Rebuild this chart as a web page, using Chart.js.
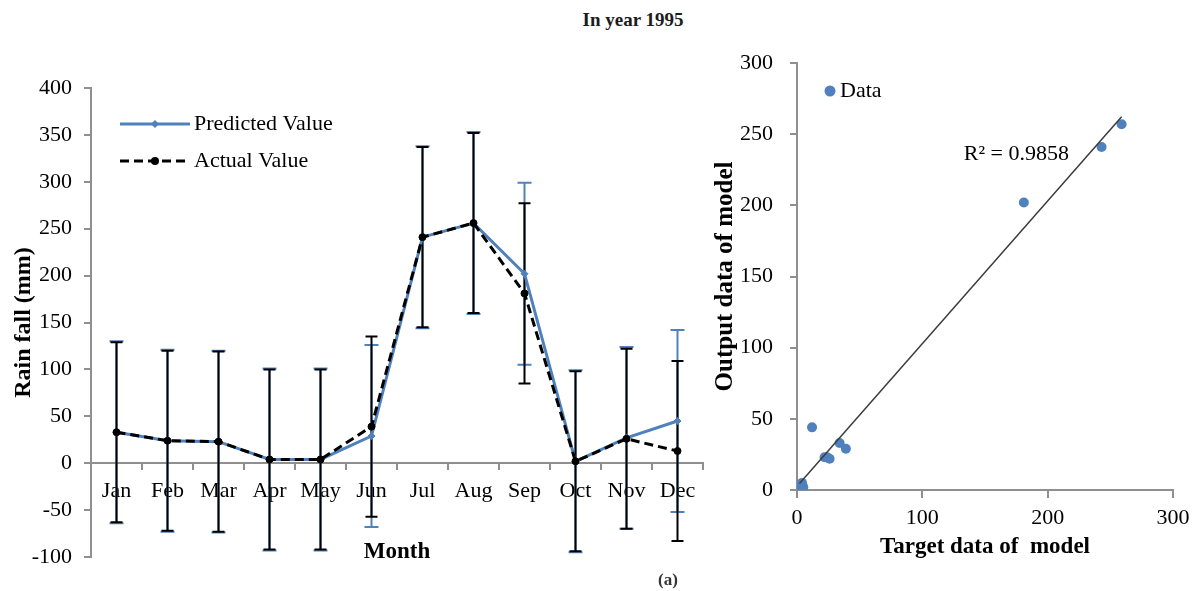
<!DOCTYPE html>
<html>
<head>
    <title>Rainfall 1995 - predicted vs actual</title>
    <script src="https://cdn.jsdelivr.net/npm/chart.js"></script>
    <style>
        body { margin: 0; background: #fff; }
        .page { position: relative; width: 1199px; height: 591px; overflow: hidden; }
        .page canvas { position: absolute; top: 0; }
        #rainChart { left: 0; }
        #fitChart { left: 710px; }
        .heading, .tag {
            position: absolute; text-align: center; color: #1c1c1c;
            font-family: 'Liberation Serif', 'Times New Roman', serif; font-weight: bold;
        }
        .heading { left: 533px; width: 200px; top: 8px; font-size: 19px; line-height: 24px; }
        .tag { left: 640px; width: 56px; top: 570px; font-size: 17px; line-height: 20px; color: #333; }
    </style>
</head>
<body>
<div class="page">
    <div class="heading">In year 1995</div>
    <canvas id="rainChart" width="710" height="591"></canvas>
    <canvas id="fitChart" width="489" height="591"></canvas>
    <div class="tag">(a)</div>
</div>

<script>
// monthly rainfall (mm)
const months = ['Jan', 'Feb', 'Mar', 'Apr', 'May', 'Jun', 'Jul', 'Aug', 'Sep', 'Oct', 'Nov', 'Dec'];
const predictedRain = [33, 24, 23, 4, 4, 29, 241, 256, 202, 2, 27, 45];
const actualRain = [33, 24, 23, 4, 4, 39, 241, 256, 181, 2, 26, 13];
// +/- size of the error bars on each series
const predictedSpread = 97;
const actualSpread = 96;

// target (measured) vs output (model) pairs for the regression plot
const targetData = [34, 22, 24, 4, 5, 39, 243, 259, 181, 2, 26, 12];
const outputData = [33, 23, 23, 5, 2, 29, 241, 257, 202, 3, 22, 44];
const rSquaredText = 'R² = 0.9858';

const blue = '#4F81BD';
const axisGrey = '#8f8f8f';
const serif = "'Liberation Serif', 'Times New Roman', serif";

Chart.defaults.font.family = serif;
Chart.defaults.color = '#000';

// small marker painter used by the legends
function drawMarker(ctx, style, r, x, y) {
    ctx.beginPath();
    if (style === 'rectRot') {
        ctx.moveTo(x, y - r); ctx.lineTo(x + r, y); ctx.lineTo(x, y + r); ctx.lineTo(x - r, y);
        ctx.closePath();
    } else {
        ctx.arc(x, y, r, 0, Math.PI * 2);
    }
    ctx.fill();
}

// vertical error bars with caps, drawn underneath the lines
const errorBars = {
    id: 'errorBars',
    beforeDatasetsDraw(chart) {
        const { ctx, scales: { x, y } } = chart;
        chart.data.datasets.forEach(ds => {
            if (!ds.errorSpread) return;
            const cap = ds.errorCap / 2;
            ctx.save();
            ctx.strokeStyle = ds.errorColor;
            ctx.lineWidth = 2;
            ds.data.forEach((v, j) => {
                const px = x.getPixelForValue(j);
                const top = y.getPixelForValue(v + ds.errorSpread);
                const bot = y.getPixelForValue(v - ds.errorSpread);
                ctx.beginPath();
                ctx.moveTo(px, top); ctx.lineTo(px, bot);
                ctx.moveTo(px - cap, top); ctx.lineTo(px + cap, top);
                ctx.moveTo(px - cap, bot); ctx.lineTo(px + cap, bot);
                ctx.stroke();
            });
            ctx.restore();
        });
    }
};

// legend drawn inside the plot area: line sample + marker + label
const sampleLegend = {
    id: 'sampleLegend',
    afterDraw(chart, args, opts) {
        const ctx = chart.ctx;
        const items = chart.data.datasets.filter(ds => ds.inLegend !== false);
        ctx.save();
        ctx.font = opts.font;
        ctx.textBaseline = 'middle';
        items.forEach((ds, i) => {
            const y = opts.y + i * opts.rowHeight;
            const mid = opts.x + opts.sampleWidth / 2;
            if (opts.sampleWidth > 0) {
                ctx.beginPath();
                ctx.setLineDash(ds.borderDash || []);
                ctx.strokeStyle = ds.borderColor;
                ctx.lineWidth = ds.borderWidth;
                ctx.moveTo(opts.x, y);
                ctx.lineTo(opts.x + opts.sampleWidth, y);
                ctx.stroke();
                ctx.setLineDash([]);
            }
            ctx.fillStyle = ds.pointBackgroundColor;
            drawMarker(ctx, ds.pointStyle || 'circle', ds.pointRadius + 0.5, mid, y);
            ctx.fillStyle = '#000';
            ctx.fillText(ds.label, opts.x + opts.sampleWidth + opts.gap, y);
        });
        ctx.restore();
    }
};

// R² text placed in data coordinates
const fitLabel = {
    id: 'fitLabel',
    afterDatasetsDraw(chart, args, opts) {
        const { ctx, scales: { x, y } } = chart;
        ctx.save();
        ctx.font = opts.font;
        ctx.fillStyle = '#000';
        ctx.textAlign = 'center';
        ctx.textBaseline = 'middle';
        ctx.fillText(opts.text, x.getPixelForValue(opts.at[0]), y.getPixelForValue(opts.at[1]));
        ctx.restore();
    }
};

// ---- left: monthly rainfall with error bars ----
new Chart(document.getElementById('rainChart'), {
    type: 'line',
    data: {
        labels: months,
        datasets: [
            {
                label: 'Predicted Value',
                data: predictedRain,
                borderColor: blue,
                borderWidth: 3,
                pointStyle: 'rectRot',
                pointRadius: 3.5,
                pointBorderWidth: 1,
                pointBackgroundColor: blue,
                pointBorderColor: blue,
                order: 1,
                errorSpread: predictedSpread,
                errorColor: blue,
                errorCap: 14
            },
            {
                label: 'Actual Value',
                data: actualRain,
                borderColor: '#000',
                borderDash: [9, 5],
                borderWidth: 3,
                pointStyle: 'circle',
                pointRadius: 3.5,
                pointBorderWidth: 1,
                pointBackgroundColor: '#000',
                pointBorderColor: '#000',
                order: 0,
                errorSpread: actualSpread,
                errorColor: '#000',
                errorCap: 12
            }
        ]
    },
    options: {
        responsive: false,
        animation: false,
        layout: { padding: { left: 0, top: 88, right: 7, bottom: 34 } },
        plugins: {
            legend: { display: false },
            tooltip: { enabled: false },
            sampleLegend: { x: 120, y: 124, rowHeight: 37, sampleWidth: 70, gap: 4, font: '22px ' + serif }
        },
        scales: {
            x: {
                type: 'category',
                offset: true,
                position: { y: 0 },
                grid: { offset: true, drawOnChartArea: false, tickLength: 6, color: axisGrey, lineWidth: 2 },
                border: { color: axisGrey, width: 2 },
                ticks: { padding: 9, font: { size: 22 }, maxRotation: 0, autoSkip: false },
                title: { display: true, text: 'Month', font: { size: 23, weight: 'bold' }, padding: { top: 25, bottom: 0 } }
            },
            y: {
                min: -100,
                max: 400,
                ticks: { stepSize: 50, padding: 12, font: { size: 22 } },
                grid: { drawOnChartArea: false, tickLength: 7, color: axisGrey, lineWidth: 2 },
                border: { color: axisGrey, width: 2 },
                title: { display: true, text: 'Rain fall (mm)', font: { size: 24, weight: 'bold' }, padding: { top: 9, bottom: 0 } },
                afterFit: s => { s.width = 91; }
            }
        }
    },
    plugins: [errorBars, sampleLegend]
});

// ---- right: target vs output with linear trendline ----
function leastSquares(xs, ys) {
    const n = xs.length;
    const mx = xs.reduce((a, b) => a + b, 0) / n;
    const my = ys.reduce((a, b) => a + b, 0) / n;
    let sxy = 0, sxx = 0;
    xs.forEach((xv, i) => { sxy += (xv - mx) * (ys[i] - my); sxx += (xv - mx) * (xv - mx); });
    const slope = sxy / sxx;
    return { slope, intercept: my - slope * mx };
}

const fit = leastSquares(targetData, outputData);
const xLo = Math.min(...targetData);
const xHi = Math.max(...targetData);

new Chart(document.getElementById('fitChart'), {
    type: 'scatter',
    data: {
        datasets: [
            {
                type: 'line',
                label: 'Linear (Data)',
                data: [
                    { x: xLo, y: fit.intercept + fit.slope * xLo },
                    { x: xHi, y: fit.intercept + fit.slope * xHi }
                ],
                borderColor: '#3c3c3c',
                borderWidth: 1.5,
                pointRadius: 0,
                inLegend: false,
                order: 0
            },
            {
                label: 'Data',
                data: targetData.map((t, i) => ({ x: t, y: outputData[i] })),
                pointRadius: 5,
                pointBorderWidth: 0,
                pointBackgroundColor: blue,
                pointBorderColor: blue,
                order: 1
            }
        ]
    },
    options: {
        responsive: false,
        animation: false,
        layout: { padding: { left: 0, top: 63, right: 26, bottom: 0 } },
        plugins: {
            legend: { display: false },
            tooltip: { enabled: false },
            sampleLegend: { x: 120, y: 91, rowHeight: 30, sampleWidth: 0, gap: 10, font: '22px ' + serif },
            fitLabel: { text: rSquaredText, at: [175, 236], font: '22px ' + serif }
        },
        scales: {
            x: {
                type: 'linear',
                min: 0,
                max: 300,
                ticks: { stepSize: 100, padding: 7, font: { size: 22 } },
                grid: { drawOnChartArea: false, tickLength: 8, color: axisGrey, lineWidth: 2 },
                border: { color: axisGrey, width: 2 },
                title: { display: true, text: 'Target data of  model', font: { size: 23, weight: 'bold' }, padding: { top: 0, bottom: 30 } },
                afterFit: s => { s.height = 101; }
            },
            y: {
                min: 0,
                max: 300,
                ticks: { stepSize: 50, padding: 17, font: { size: 22 } },
                grid: { drawOnChartArea: false, tickLength: 7, color: axisGrey, lineWidth: 2 },
                border: { color: axisGrey, width: 2 },
                title: { display: true, text: 'Output data of model', font: { size: 25, weight: 'bold' }, padding: { top: 1, bottom: 0 } },
                afterFit: s => { s.width = 87; }
            }
        }
    },
    plugins: [sampleLegend, fitLabel]
});
</script>
</body>
</html>
